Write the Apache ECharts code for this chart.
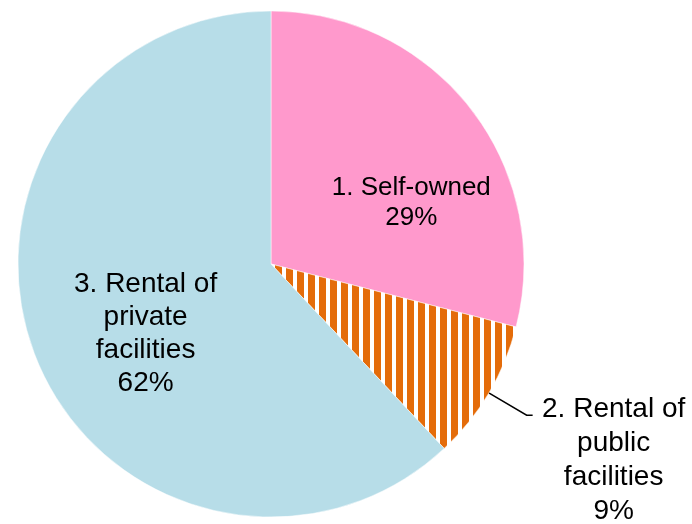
<!DOCTYPE html>
<html>
<head>
<meta charset="utf-8">
<script src="https://cdn.jsdelivr.net/npm/echarts@6/dist/echarts.min.js"></script>
<style>
  html, body { margin: 0; padding: 0; background: #fff; }
  #chart { width: 692px; height: 524px; }
</style>
</head>
<body>
<div id="chart"></div>
<script>
// 分类名称（带换行）
var categories = ['1. Self-owned', '2. Rental of\npublic\nfacilities', '3. Rental of\nprivate\nfacilities'];
// 百分比数值
var values = [29, 9, 62];
var colors = ['#FF99CC', '#E46C0A', '#B7DDE8'];

// 橙色竖条纹
function stripePattern() {
  var c = document.createElement('canvas');
  c.width = 11;
  c.height = 11;
  var ctx = c.getContext('2d');
  ctx.fillStyle = '#ffffff';
  ctx.fillRect(0, 0, 11, 11);
  ctx.fillStyle = colors[1];
  ctx.fillRect(0, 0, 7, 11);
  return c;
}

var chart = echarts.init(document.getElementById('chart'));

var seriesData = categories.map(function (name, i) {
  var item = {
    name: name,
    value: values[i],
    itemStyle: { color: colors[i] }
  };
  if (i === 1) {
    item.itemStyle.color = { image: stripePattern(), repeat: 'repeat' };
    item.label = {
      position: 'outside',
      padding: [90, 0, 0, 0],
      formatter: function (p) {
        var lines = (p.name + '\n' + p.value + '%').split('\n');
        return lines.map(function (l) { return '{w|' + l + '}'; }).join('\n');
      },
      rich: {
        w: {
          width: 152,
          align: 'center',
          fontSize: 28,
          lineHeight: 34,
          fontFamily: 'Liberation Sans, Arial, sans-serif',
          color: '#000'
        }
      }
    };
    item.labelLine = {
      show: true,
      length: 44,
      length2: 6,
      lineStyle: { color: '#000', width: 1.5 }
    };
  } else {
    item.label = {
      position: 'inside',
      fontSize: i === 0 ? 26 : 28,
      lineHeight: i === 0 ? 30 : 33
    };
    item.labelLine = { show: false };
  }
  return item;
});

var option = {
  animation: false,
  series: [
    {
      type: 'pie',
      center: [271, 264],
      radius: 253,
      startAngle: 90,
      clockwise: true,
      avoidLabelOverlap: false,
      bleedMargin: 0,
      itemStyle: { borderColor: '#fff', borderWidth: 0.5 },
      label: {
        color: '#000',
        fontSize: 26,
        fontFamily: 'Liberation Sans, Arial, sans-serif',
        formatter: function (p) { return p.name + '\n' + p.value + '%'; }
      },
      labelLayout: function (params) {
        if (params.dataIndex === 0) return { dx: 38, dy: 18 };
        if (params.dataIndex === 2) return { dx: -5, dy: 22 };
        return {};
      },
      emphasis: { disabled: true },
      data: seriesData
    }
  ]
};

chart.setOption(option);
</script>
</body>
</html>
